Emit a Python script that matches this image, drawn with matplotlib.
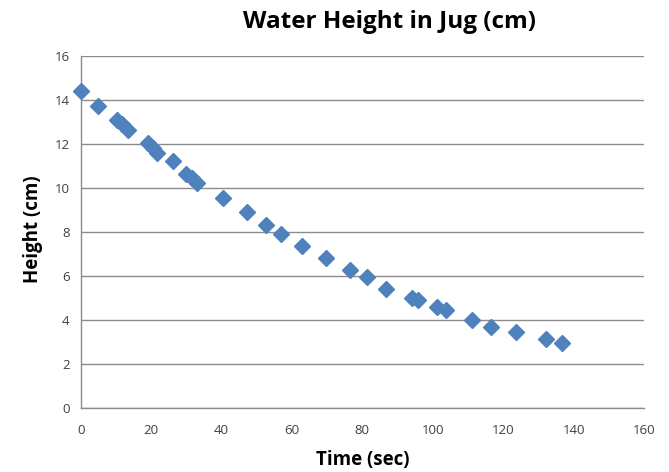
import matplotlib
matplotlib.use("Agg")
import matplotlib.pyplot as plt

time_sec = [0, 4.8, 10.4, 11.8, 13.3, 19.0, 20.5, 21.7, 26.1, 30.0, 31.5, 33.0,
            40.3, 47.3, 52.6, 56.8, 62.8, 69.8, 76.6, 81.3, 86.8, 94.0, 95.9,
            101.3, 103.9, 111.2, 116.6, 123.7, 132.2, 136.7]
height_cm = [14.4, 13.75, 13.1, 12.9, 12.65, 12.05, 11.8, 11.6, 11.24, 10.65, 10.45, 10.25,
             9.56, 8.92, 8.32, 7.9, 7.36, 6.83, 6.27, 5.97, 5.44, 5.0, 4.91,
             4.6, 4.45, 4.0, 3.7, 3.47, 3.15, 2.97]

x_ticks = [0, 20, 40, 60, 80, 100, 120, 140, 160]
y_ticks = [0, 2, 4, 6, 8, 10, 12, 14, 16]

plt.rcParams['font.family'] = ['Open Sans', 'DejaVu Sans']

W, H = 669, 472
fig = plt.figure(figsize=(W / 100, H / 100), dpi=100)
left, right, top, bottom = 80.7, 644, 56, 408.3
ax = fig.add_axes([left / W, (H - bottom) / H, (right - left) / W, (bottom - top) / H])

ax.set_xlim(0, 160)
ax.set_ylim(0, 16)
ax.set_xticks(x_ticks)
ax.set_yticks(y_ticks)
ax.grid(axis='y', color='#8c8c8c', linewidth=1.0)
ax.set_axisbelow(True)
for s in ['top', 'right']:
    ax.spines[s].set_visible(False)
for s in ['left', 'bottom']:
    ax.spines[s].set_color('#8c8c8c')
    ax.spines[s].set_linewidth(1.0)
ax.tick_params(length=0, labelsize=9.5, colors='#404040')
ax.tick_params(axis='x', pad=11)
ax.tick_params(axis='y', pad=8)

ax.plot(time_sec, height_cm, linestyle='none', marker='D', markersize=8.3,
        color='#4F81BD', markeredgecolor='#4F81BD', clip_on=False, zorder=3)

fig.text(389 / W, 1 - 22 / H, 'Water Height in Jug (cm)', ha='center', va='center',
         fontsize=17.5, fontweight='bold', color='black')
fig.text(363 / W, 1 - 460 / H, 'Time (sec)', ha='center', va='center',
         fontsize=13.5, fontweight='bold', color='black')
fig.text(33 / W, 1 - 229 / H, 'Height (cm)', ha='center', va='center', rotation=90,
         fontsize=13.5, fontweight='bold', color='black')

fig.savefig('out.png', dpi=100)
